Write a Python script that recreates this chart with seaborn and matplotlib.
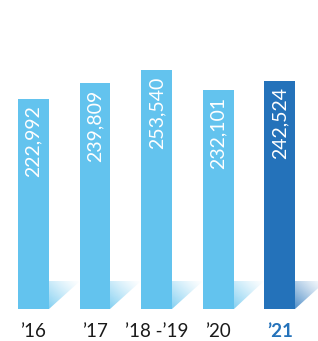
import numpy as np
import pandas as pd
import matplotlib.pyplot as plt
import matplotlib.colors as mcolors
from matplotlib.patches import Polygon
import seaborn as sns

years = ["\u201916", "\u201917", "\u201918 -\u201919", "\u201920", "\u201921"]
values = [222992, 239809, 253540, 232101, 242524]
bar_colors = ["#63C3EE", "#63C3EE", "#63C3EE", "#63C3EE", "#2472BA"]

df = pd.DataFrame({"year": years, "value": values})

sns.set_style("white")
plt.rcParams["font.family"] = ["Lato", "DejaVu Sans"]

fig = plt.figure(figsize=(3.18, 3.41), dpi=100)
ax = fig.add_axes([0, 32 / 341, 1, 309 / 341])

sns.barplot(
    df, x="year", y="value", hue="year", palette=bar_colors,
    legend=False, width=0.5, saturation=1, linewidth=0, ax=ax,
)

shadow_h = 30000

# gradient "shadow" to the right of each bar
grad = np.linspace(0, 1, 64)
gx, gy = np.meshgrid(grad, grad)
t = np.clip((gx + gy) / 2, 0, 1)
for patch, val, col in zip(ax.patches, values, bar_colors):
    x0 = patch.get_x()
    w = patch.get_width()
    x1 = x0 + w
    img = np.zeros((64, 64, 4))
    img[..., :3] = mcolors.to_rgb(col)
    img[..., 3] = 0.8 * (1 - t) ** 1.3
    poly = Polygon([(x1, 0), (x1, shadow_h), (x1 + w, shadow_h)], closed=True,
                   facecolor="none", edgecolor="none")
    ax.add_patch(poly)
    im = ax.imshow(img, extent=(x1, x1 + w, 0, shadow_h), origin="lower",
                   aspect="auto", interpolation="bilinear", zorder=0.5)
    im.set_clip_path(poly)

    ax.annotate(
        f"{val:,}", (x0 + w / 2, patch.get_height()), xytext=(0, -4.5),
        textcoords="offset points", rotation=90, ha="center", va="top",
        color="white", fontsize=14,
    )

ax.set_xlim(-0.54, 4.62)
ax.set_ylim(0, 328000)
ax.set(xlabel="", ylabel="", yticks=[])
ax.tick_params(axis="x", length=0, pad=10, labelsize=13.5, labelcolor="#1a1a1a")
for lbl in ax.get_xticklabels():
    if lbl.get_text() == years[-1]:
        lbl.set_color("#2472BA")
        lbl.set_fontweight("bold")
sns.despine(ax=ax, left=True, bottom=True)

plt.savefig("out.png", dpi=100)
